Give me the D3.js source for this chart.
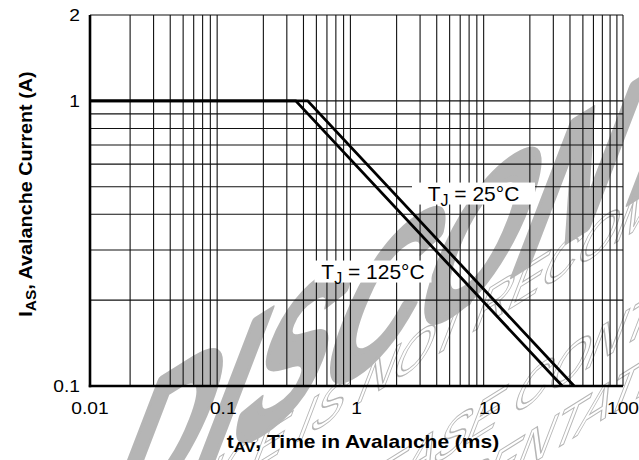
<!DOCTYPE html>
<html>
<head>
<meta charset="utf-8">
<script src="https://cdn.jsdelivr.net/npm/d3@7"></script>
<style>
  html, body { margin: 0; padding: 0; background: #fff; }
  svg { display: block; }
</style>
</head>
<body>
<svg id="chart" width="639" height="460"></svg>
<script>
// ---- data ----
const xTickValues = [0.01, 0.1, 1, 10, 100];
const xTickLabels = ["0.01", "0.1", "1", "10", "100"];
const yTickValues = [0.1, 1, 2];
const yTickLabels = ["0.1", "1", "2"];
const xDomain = [0.01, 100];
const yDomain = [0.1, 2];
const yGridValues = [0.2, 0.3, 0.4, 0.5, 0.6, 0.7, 0.8, 0.9, 1];
const series25 = [[0.01, 1], [0.43, 1], [43, 0.1]];
const series125 = [[0.01, 1], [0.35, 1], [35, 0.1]];
const seriesNames = ["T_J = 25°C", "T_J = 125°C"];
const labelPos = [[7.55, 0.473], [1.33, 0.252]];   // box centres, data units
const xTitle = ["t", "AV", ", Time in Avalanche (ms)"];
const yTitle = ["I", "AS", ", Avalanche Current (A)"];
const watermarkBig = "DISCONTINUED";
const watermarkSmall = [
  "THIS DEVICE IS NOT RECOMMENDED FOR NEW DESIGN.",
  "PLEASE CONTACT YOUR ONSEMI",
  "REPRESENTATIVE FOR INFORMATION"
];

// ---- layout ----
const svg = d3.select("#chart");
const L = 90, R = 623, T = 15, B = 386;
const x = d3.scaleLog().domain(xDomain).range([L, R]);
const y = d3.scaleLog().domain(yDomain).range([B, T]);
const FONT = "'Liberation Sans', Arial, Helvetica, sans-serif";
const WM = "#b5b5b5";

// ---- watermark (behind everything, slanted diagonal) ----
const baseAng = 32 * Math.PI / 180, lean = 21 * Math.PI / 180;
const bv = [Math.cos(baseAng), -Math.sin(baseAng)];
const uv = [Math.sin(lean), -Math.cos(lean)];
const wm = svg.append("g");
function measure(str, fs, weight, ls) {
  const t = svg.append("text").attr("font-family", FONT).attr("font-size", fs)
    .attr("font-weight", weight).attr("letter-spacing", ls).text(str);
  const w = t.node().getComputedTextLength();
  t.remove();
  return w;
}
function placeWM(str, sub, target, fs, weight, s1, s2, ls, outline) {
  const i = str.indexOf(sub);
  const p = measure(str.slice(0, i), fs, weight, ls);
  const q = measure(sub, fs, weight, ls) - ls;
  const X = (p + q / 2) * s1, H = 0.358 * fs * s2;
  const e = [target[0] - X * bv[0] - H * uv[0], target[1] - X * bv[1] - H * uv[1]];
  const m = [s1 * bv[0], s1 * bv[1], -s2 * uv[0], -s2 * uv[1], e[0], e[1]];
  const t = wm.append("text")
    .attr("transform", `matrix(${m.join(",")})`)
    .attr("font-family", FONT).attr("font-weight", weight).attr("font-size", fs)
    .attr("letter-spacing", ls)
    .text(str);
  if (outline) t.attr("fill", "none").attr("stroke", WM).attr("stroke-width", 1.3);
  else t.attr("fill", WM).attr("stroke", WM).attr("stroke-width", 5).attr("stroke-linejoin", "round");
}
placeWM(watermarkBig, "CO", [437, 262], 165, "bold", 0.93, 1.45, 0, false);
placeWM(watermarkSmall[0], "NOT", [400, 360], 55, "normal", 1.05, 1.25, 0, true);
placeWM(watermarkSmall[1], "CONT", [573, 360], 55, "normal", 1.05, 1.25, 0, true);
placeWM(watermarkSmall[2], "TAT", [598, 405], 55, "normal", 1.05, 1.25, 0, true);

// ---- grid ----
const g = svg.append("g");
const xGrid = [];
for (let d = 0.01; d < 100; d *= 10) for (let k = 2; k <= 9; k++) xGrid.push(+(d * k).toPrecision(3));
g.selectAll("line.vx").data(xGrid).join("line")
  .attr("x1", d => x(d)).attr("x2", d => x(d))
  .attr("y1", T).attr("y2", B)
  .attr("stroke", "#111").attr("stroke-width", 1.1);
g.selectAll("line.hy").data(yGridValues).join("line")
  .attr("x1", L).attr("x2", R)
  .attr("y1", d => y(d)).attr("y2", d => y(d))
  .attr("stroke", "#111").attr("stroke-width", 1.1);
g.append("line").attr("x1", L).attr("x2", R).attr("y1", T).attr("y2", T).attr("stroke", "#111").attr("stroke-width", 1.1);
g.append("line").attr("x1", R).attr("x2", R).attr("y1", T).attr("y2", B).attr("stroke", "#111").attr("stroke-width", 1.1);
g.append("line").attr("x1", L).attr("x2", L).attr("y1", T).attr("y2", B + 1.2).attr("stroke", "#000").attr("stroke-width", 2.6);
g.append("line").attr("x1", L - 1.2).attr("x2", R).attr("y1", B).attr("y2", B).attr("stroke", "#000").attr("stroke-width", 2.6);

// ---- curves ----
const line = d3.line().x(d => x(d[0])).y(d => y(d[1]));
[series25, series125].forEach(s => {
  svg.append("path").datum(s).attr("d", line)
    .attr("fill", "none").attr("stroke", "#000").attr("stroke-width", 2.8);
});

// ---- labels ----
const boxW = [123, 117], boxH = 22;
seriesNames.forEach((name, i) => {
  const cx = x(labelPos[i][0]), cy = y(labelPos[i][1]);
  svg.append("rect").attr("x", cx - boxW[i] / 2).attr("y", cy - boxH / 2)
    .attr("width", boxW[i]).attr("height", boxH).attr("fill", "#fff");
  const parts = name.split("_");
  const t = svg.append("text").attr("x", cx).attr("y", cy + 7.5)
    .attr("text-anchor", "middle").attr("font-family", FONT).attr("font-size", 21).attr("fill", "#000");
  t.append("tspan").text(parts[0]);
  t.append("tspan").attr("dy", 5).attr("font-size", 16).text(parts[1].slice(0, 1));
  t.append("tspan").attr("dy", -5).text(parts[1].slice(1));
});

// ---- tick labels ----
const SX = 1.2;
xTickValues.forEach((v, i) => {
  svg.append("text")
    .attr("transform", `translate(${x(v)},414) scale(${SX},1)`)
    .attr("text-anchor", "middle").attr("font-family", FONT).attr("font-size", 16).attr("fill", "#000")
    .text(xTickLabels[i]);
});
yTickValues.forEach((v, i) => {
  svg.append("text")
    .attr("transform", `translate(80,${y(v) + 6}) scale(${SX},1)`)
    .attr("text-anchor", "end").attr("font-family", FONT).attr("font-size", 16).attr("fill", "#000")
    .text(yTickLabels[i]);
});

// ---- axis titles ----
const xt = svg.append("text")
  .attr("transform", `translate(363,448) scale(1.165,1)`)
  .attr("text-anchor", "middle").attr("font-family", FONT).attr("font-weight", "bold")
  .attr("font-size", 18).attr("fill", "#000");
xt.append("tspan").text(xTitle[0]);
xt.append("tspan").attr("dy", 4).attr("font-size", 14).text(xTitle[1]);
xt.append("tspan").attr("dy", -4).text(xTitle[2]);

const yt = svg.append("text")
  .attr("transform", `translate(32,194) rotate(-90) scale(1.1,1)`)
  .attr("text-anchor", "middle").attr("font-family", FONT).attr("font-weight", "bold")
  .attr("font-size", 18).attr("fill", "#000");
yt.append("tspan").text(yTitle[0]);
yt.append("tspan").attr("dy", 4).attr("font-size", 14).text(yTitle[1]);
yt.append("tspan").attr("dy", -4).text(yTitle[2]);
</script>
</body>
</html>
